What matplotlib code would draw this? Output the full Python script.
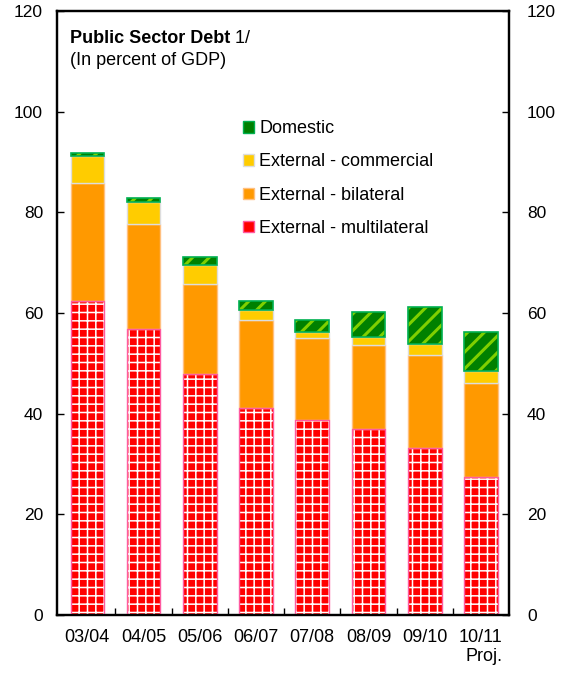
import matplotlib
matplotlib.use("Agg")
import matplotlib.pyplot as plt
from matplotlib.patches import Patch
import numpy as np

plt.rcParams['font.family'] = ['Liberation Sans', 'DejaVu Sans']

categories = ["03/04", "04/05", "05/06", "06/07", "07/08", "08/09", "09/10", "10/11\nProj."]
multilateral = [62.3, 56.9, 47.8, 41.1, 38.7, 36.9, 33.1, 27.4]
bilateral = [23.6, 20.7, 17.9, 17.6, 16.3, 16.7, 18.5, 18.6]
commercial = [5.2, 4.5, 3.9, 1.8, 1.3, 1.6, 2.2, 2.4]
domestic = [0.6, 0.8, 1.6, 1.8, 2.4, 4.9, 7.3, 7.8]

RED, GRID, PINK = "#FF0000", "#FFFFFF", "#FF5AA0"
ORANGE, ORANGE_EDGE = "#FF9900", "#FFC080"
YELLOW, YELLOW_EDGE = "#FFCC00", "#DDDDDD"
GREEN, STRIPE, GREEN_EDGE = "#008000", "#7FD000", "#00B050"


def hatch_width(artists, lw):
    for a in artists:
        if hasattr(a, "set_hatch_linewidth"):
            a.set_hatch_linewidth(lw)


fig = plt.figure(figsize=(5.69, 6.75), dpi=100)
ax = fig.add_axes([0.1002, 0.0889, 0.7944, 0.8948])

x = np.arange(len(categories))
w = 0.6
m = np.array(multilateral)
b = np.array(bilateral)
c = np.array(commercial)
d = np.array(domestic)

# multilateral: red with white grid, pink outline
with plt.rc_context({"hatch.linewidth": 1.1}):
    bars = ax.bar(x, m, w, color=RED, edgecolor=GRID, hatch="++", linewidth=0, zorder=2)
hatch_width(bars, 1.1)
ax.bar(x, m, w, fill=False, edgecolor=PINK, linewidth=1.0, zorder=3)
# bilateral
ax.bar(x, b, w, bottom=m, color=ORANGE, edgecolor=ORANGE_EDGE, linewidth=1.0, zorder=2)
# commercial
ax.bar(x, c, w, bottom=m + b, color=YELLOW, edgecolor=YELLOW_EDGE, linewidth=1.0, zorder=2)
# domestic: green with lighter diagonal stripes
with plt.rc_context({"hatch.linewidth": 2.2}):
    bars = ax.bar(x, d, w, bottom=m + b + c, color=GREEN, edgecolor=STRIPE, hatch="//",
                  linewidth=0, zorder=2)
hatch_width(bars, 2.2)
ax.bar(x, d, w, bottom=m + b + c, fill=False, edgecolor=GREEN_EDGE, linewidth=1.2, zorder=3)

ax.set_xlim(-0.54, len(categories) - 0.5)
ax.set_ylim(0, 120)
ax.set_yticks(np.arange(0, 121, 20))
ax.tick_params(axis="y", direction="in", length=5, width=1, labelsize=12.5, pad=10)

ax2 = ax.twinx()
ax2.set_ylim(ax.get_ylim())
ax2.set_yticks(np.arange(0, 121, 20))
ax2.tick_params(axis="y", direction="in", length=5, width=1, labelsize=12.5, pad=13)

ax.set_xticks(x)
ax.set_xticklabels(categories, fontsize=13)
ax.tick_params(axis="x", length=0, pad=10)
ax.set_xticks(np.arange(0.5, len(categories) - 1, 1), minor=True)
ax.tick_params(axis="x", which="minor", direction="in", length=5, width=1)
for lbl in ax.get_xticklabels():
    lbl.set_multialignment("right")
for axis in (ax, ax2):
    for s in axis.spines.values():
        s.set_linewidth(1.6)

t1 = ax.text(0.028, 0.968, "Public Sector Debt", transform=ax.transAxes,
             fontsize=13, fontweight="bold", va="top", ha="left")
ax.annotate(" 1/", xy=(1, 0), xycoords=t1, va="bottom", ha="left", fontsize=13)
ax.text(0.028, 0.932, "(In percent of GDP)", transform=ax.transAxes,
        fontsize=13, va="top", ha="left")

handles = [
    Patch(facecolor=GREEN, edgecolor=GREEN_EDGE, linewidth=1.0),
    Patch(facecolor=YELLOW, edgecolor=YELLOW_EDGE, linewidth=1.0),
    Patch(facecolor=ORANGE, edgecolor=ORANGE_EDGE, linewidth=1.0),
    Patch(facecolor=RED, edgecolor=PINK, linewidth=1.0),
]
labels = ["Domestic", "External - commercial", "External - bilateral", "External - multilateral"]
leg = ax.legend(handles, labels, loc="upper left", bbox_to_anchor=(2.77, 98.3),
                bbox_transform=ax.transData, frameon=False, fontsize=13,
                handlelength=0.6, handleheight=0.6, handletextpad=0.3,
                labelspacing=0.9, borderaxespad=0, borderpad=0)

fig.savefig("out.png", dpi=100)
